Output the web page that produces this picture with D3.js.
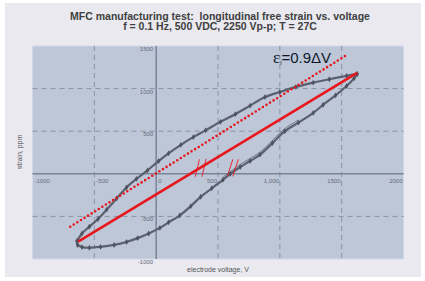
<!DOCTYPE html>
<html>
<head>
<meta charset="utf-8">
<script src="https://cdn.jsdelivr.net/npm/d3@7"></script>
<style>
  body { margin: 0; background: #fff; }
  text { font-family: "Liberation Sans", Arial, sans-serif; }
</style>
</head>
<body>
<svg width="425" height="281"></svg>
<script>
// data (voltage V, strain ppm)
var upperBranch = [
  [-640,-790], [-600,-700], [-540,-620], [-470,-530], [-400,-420], [-320,-290],
  [-240,-160], [-160,-60], [-70,40], [20,150], [100,240], [200,340], [300,430],
  [400,510], [520,610], [640,700], [760,800], [880,900], [1000,960], [1130,1020],
  [1270,1070], [1400,1110], [1540,1150], [1625,1172]
];
var lowerBranch = [
  [1625,1172], [1600,1120], [1540,1030], [1450,920], [1350,810], [1270,715],
  [1150,600], [1040,500], [940,360], [840,225], [760,150], [680,80], [600,0],
  [540,-70], [450,-170], [360,-270], [280,-380], [190,-490], [100,-570], [30,-635],
  [-60,-700], [-150,-755], [-240,-800], [-340,-835], [-450,-858], [-540,-868],
  [-600,-860], [-635,-835], [-640,-790]
];
var lowerBranch2 = [[540,-40], [680,110], [840,255], [1040,530], [1150,630]];
var fitLine = [[-631,-797], [1625,1184]];
var slopeLine = [[-695,-621], [1528,1383]];
var hashMarks = [
  [[316,-35],[350,170]], [[370,-35],[404,175]],
  [[575,-30],[620,170]], [[620,-30],[665,170]]
];

var xTicks = [-1000, -500, 0, 500, 1000, 1500, 2000];
var xTickLabels = ["-1000", "-500", "0", "500", "1,000", "1500", "2000"];
var yTicks = [-1000, -500, 0, 500, 1000, 1500];
var yTickLabels = ["-1000", "-500", "", "500", "1000", "1500"];

var svg = d3.select("svg");

// panel
svg.append("rect").attr("x", 5).attr("y", 3).attr("width", 416).attr("height", 274)
  .attr("fill", "#e9e9ef");

var x = d3.scaleLinear().domain([-1000, 2000]).range([32.5, 403.5]);
var y = d3.scaleLinear().domain([-1000, 1500]).range([259, 46]);

// plot area
svg.append("rect")
  .attr("x", x(-1000)).attr("y", y(1500))
  .attr("width", x(2000) - x(-1000)).attr("height", y(-1000) - y(1500))
  .attr("fill", "#bdc7d8").attr("stroke", "#d3d7ea").attr("stroke-width", 1);

// grid
svg.selectAll(".vgrid").data([-500, 500, 1000, 1500]).enter().append("line")
  .attr("x1", d => x(d)).attr("x2", d => x(d))
  .attr("y1", y(1500)).attr("y2", y(-1000))
  .attr("stroke", "#8a92a3").attr("stroke-width", 1).attr("stroke-dasharray", "5,4");
svg.selectAll(".hgrid").data([-500, 500, 1000]).enter().append("line")
  .attr("x1", x(-1000)).attr("x2", x(2000))
  .attr("y1", d => y(d)).attr("y2", d => y(d))
  .attr("stroke", "#8a92a3").attr("stroke-width", 1).attr("stroke-dasharray", "5,4");

// zero axes
svg.append("line").attr("x1", x(-1000)).attr("x2", x(2000)).attr("y1", y(0)).attr("y2", y(0))
  .attr("stroke", "#7a8498").attr("stroke-width", 1.5);
svg.append("line").attr("x1", x(0)).attr("x2", x(0)).attr("y1", y(1500)).attr("y2", y(-1000))
  .attr("stroke", "#7a8498").attr("stroke-width", 1.5);

// tick labels
svg.selectAll(".xl").data(xTicks).enter().append("text")
  .attr("x", d => d <= 0 ? x(d) + 2 : x(d) - 1)
  .attr("y", y(0) + 9)
  .attr("text-anchor", d => d <= 0 ? "start" : "end")
  .attr("font-size", 6).attr("fill", "#656b78")
  .text((d, i) => xTickLabels[i]);
svg.selectAll(".yl").data(yTicks).enter().append("text")
  .attr("x", x(0) - 3)
  .attr("y", d => y(d) + 5)
  .attr("text-anchor", "end")
  .attr("font-size", 6).attr("fill", "#656b78")
  .text((d, i) => yTickLabels[i]);

// loop
var line = d3.line().x(d => x(d[0])).y(d => y(d[1])).curve(d3.curveCatmullRom);
[upperBranch, lowerBranch].forEach(function (br) {
  svg.append("path").attr("d", line(br)).attr("fill", "none")
    .attr("stroke", "#5b606e").attr("stroke-width", 2.2);
});
svg.append("path").attr("d", line(lowerBranch2)).attr("fill", "none")
  .attr("stroke", "#5b606e").attr("stroke-width", 0.8);
var sym = d3.symbol().type(d3.symbolDiamond).size(10);
svg.selectAll(".pt").data(upperBranch.concat(lowerBranch)).enter().append("path")
  .attr("d", sym)
  .attr("transform", d => "translate(" + x(d[0]) + "," + y(d[1]) + ")")
  .attr("fill", "#4d5260");

// red lines
var straight = d3.line().x(d => x(d[0])).y(d => y(d[1]));
svg.append("path").attr("d", straight(slopeLine)).attr("stroke", "#e8171d")
  .attr("stroke-width", 2.6).attr("stroke-dasharray", "0,4.2").attr("stroke-linecap", "round");
svg.append("path").attr("d", straight(fitLine)).attr("stroke", "#e8171d")
  .attr("stroke-width", 2.6);
hashMarks.forEach(function (h) {
  svg.append("path").attr("d", straight(h)).attr("stroke", "#e8171d").attr("stroke-width", 0.9);
});

// annotation
var ann = svg.append("text").attr("x", 273).attr("y", 63).attr("font-size", 15).attr("fill", "#101828");
ann.append("tspan").attr("font-family", "Liberation Serif, serif").attr("font-size", 17).text("ε");
ann.append("tspan").attr("font-size", 6).attr("dy", 2).text("l");
ann.append("tspan").attr("dy", -2).text("=0.9ΔV");

// titles
svg.append("text").attr("x", 220).attr("y", 19.5).attr("text-anchor", "middle")
  .attr("font-size", 10.5).attr("font-weight", "bold").attr("fill", "#404040")
  .text("MFC manufacturing test:  longitudinal free strain vs. voltage")
  .style("white-space", "pre");
svg.append("text").attr("x", 220).attr("y", 30).attr("text-anchor", "middle")
  .attr("font-size", 10.5).attr("font-weight", "bold").attr("fill", "#404040")
  .text("f = 0.1 Hz, 500 VDC, 2250 Vp-p; T = 27C");

// axis titles
svg.append("text").attr("x", 218).attr("y", 272).attr("text-anchor", "middle")
  .attr("font-size", 7).attr("fill", "#555").text("electrode voltage, V");
svg.append("text").attr("transform", "translate(22,152) rotate(-90)").attr("text-anchor", "middle")
  .attr("font-size", 7).attr("fill", "#555").text("strain, ppm");
</script>
</body>
</html>
